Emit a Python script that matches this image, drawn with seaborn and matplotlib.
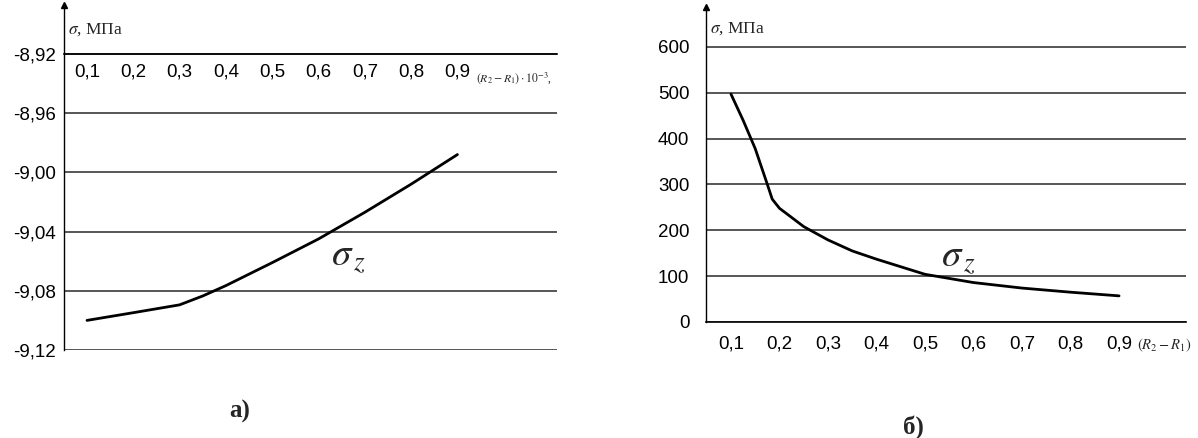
import numpy as np
import pandas as pd
import matplotlib
matplotlib.use("Agg")
import matplotlib.pyplot as plt
import seaborn as sns

# panel a) sigma_z vs (R2-R1)
x_a = [0.1, 0.2, 0.3, 0.35, 0.4, 0.5, 0.6, 0.7, 0.8, 0.9]
sigma_a = [-9.100, -9.0948, -9.0895, -9.0835, -9.0765, -9.061, -9.045, -9.027, -9.008, -8.988]
yticks_a = [-8.92, -8.96, -9.00, -9.04, -9.08, -9.12]
ylabels_a = ["-8,92", "-8,96", "-9,00", "-9,04", "-9,08", "-9,12"]

# panel б)
x_b = [0.1, 0.125, 0.15, 0.175, 0.185, 0.2, 0.25, 0.3, 0.35, 0.4, 0.5, 0.6, 0.7, 0.8, 0.9]
sigma_b = [497, 440, 378, 300, 268, 248, 208, 179, 155, 137, 104, 86, 74, 65, 57]
yticks_b = [0, 100, 200, 300, 400, 500, 600]
ylabels_b = ["0", "100", "200", "300", "400", "500", "600"]

xticks = [0.1, 0.2, 0.3, 0.4, 0.5, 0.6, 0.7, 0.8, 0.9]
xlabels = ["0,1", "0,2", "0,3", "0,4", "0,5", "0,6", "0,7", "0,8", "0,9"]

sns.set_theme(style="white")
plt.rcParams["font.family"] = ["Liberation Sans", "DejaVu Sans"]
plt.rcParams["mathtext.fontset"] = "stix"

fig = plt.figure(figsize=(11.98, 4.38), dpi=100)
ax1 = fig.add_axes([64 / 1198, 1 - 350 / 438, 493 / 1198, 345 / 438])
ax2 = fig.add_axes([706 / 1198, 1 - 322 / 438, 480 / 1198, 315 / 438])

grid_kw = dict(color="#3a3a3a", lw=1.2, zorder=1)
serif = ["Liberation Serif", "DejaVu Serif"]


def style_axis(ax, yticks, ylabels, ypad):
    for s in ["top", "right"]:
        ax.spines[s].set_visible(False)
    ax.spines["left"].set_color("black")
    ax.spines["left"].set_linewidth(1.0)
    ax.spines["bottom"].set_color("black")
    ax.spines["bottom"].set_linewidth(1.2)
    for v in yticks:
        ax.axhline(v, **grid_kw)
    ax.set_yticks(yticks)
    ax.set_yticklabels(ylabels)
    ax.set_xticks(xticks)
    ax.set_xticklabels(xlabels)
    ax.tick_params(axis="both", length=0, labelsize=13.5, colors="black")
    ax.tick_params(axis="y", pad=ypad)
    ax.set_xlabel("")
    ax.set_ylabel("")
    # arrow on the vertical axis
    ax.plot(0, 1, marker="^", color="black", markersize=5,
            transform=ax.transAxes, clip_on=False)
    ax.text(0.008, 0.93, r"$\sigma$, МПа", transform=ax.transAxes,
            fontsize=12.5, family=serif, va="center", ha="left")


# panel a
df_a = pd.DataFrame({"x": x_a, "sigma": sigma_a})
sns.lineplot(data=df_a, x="x", y="sigma", ax=ax1, color="black", lw=2, zorder=3)
ax1.set_xlim(0.0503, 1.115)
ax1.set_ylim(-9.12, -8.887)
style_axis(ax1, yticks_a, ylabels_a, 6)
ax1.spines["bottom"].set_position(("data", -8.92))
ax1.tick_params(axis="x", pad=7)
ax1.text(0.94, -8.936, r"$(R_2-R_1)\cdot 10^{-3}$,", fontsize=8.5,
         family=serif, va="center", ha="left")
ax1.text(0.665, -9.058, r"$\sigma_{\,z}$", fontsize=28, va="center", ha="center")

# panel b
df_b = pd.DataFrame({"x": x_b, "sigma": sigma_b})
sns.lineplot(data=df_b, x="x", y="sigma", ax=ax2, color="black", lw=2, zorder=3)
ax2.set_xlim(0.0485, 1.038)
ax2.set_ylim(0, 687)
style_axis(ax2, yticks_b, ylabels_b, 12)
ax2.tick_params(axis="x", pad=10)
ax2.text(0.937, -50, r"$(R_2-R_1)$", fontsize=10.5, family=serif,
         va="center", ha="left", clip_on=False)
ax2.text(0.57, 138, r"$\sigma_{\,z}$", fontsize=28, va="center", ha="center")

fig.text(240 / 1198, 1 - 411 / 438, "а)", fontsize=18, fontweight="bold",
         family=serif, ha="center", va="center")
fig.text(913 / 1198, 1 - 427 / 438, "б)", fontsize=18, fontweight="bold",
         family=serif, ha="center", va="center")

fig.savefig("out.png", dpi=100)
